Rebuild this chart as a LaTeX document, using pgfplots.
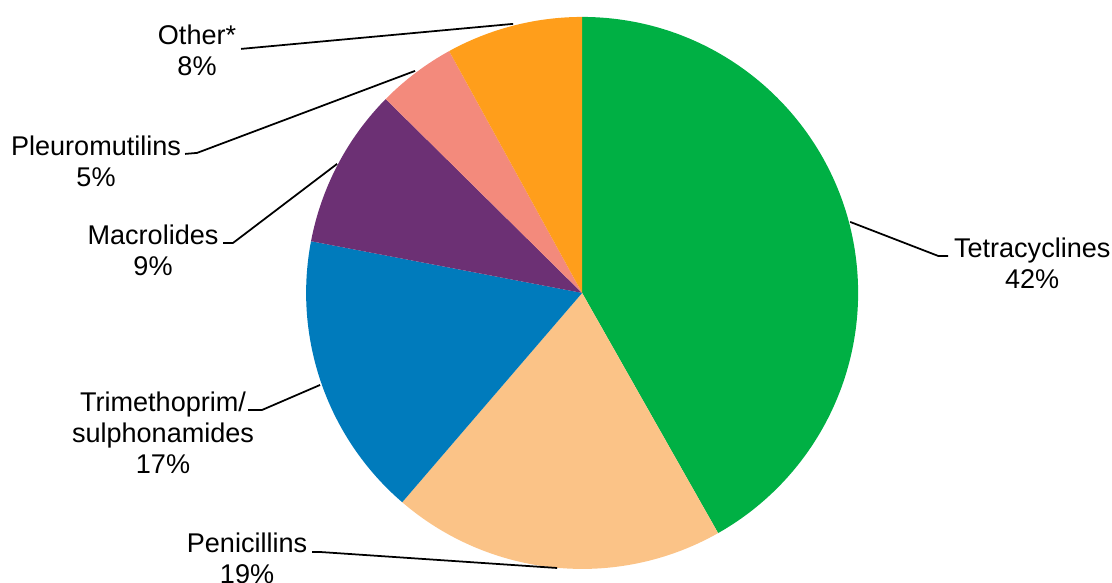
\documentclass[border=0pt]{standalone}
\usepackage{pgfplots}
\usepackage{pgfplotstable}
\pgfplotsset{compat=1.18}
\usepackage{fontspec}
\setmainfont{Liberation Sans}
\definecolor{cTet}{RGB}{0,176,68}
\definecolor{cPen}{RGB}{251,195,135}
\definecolor{cTri}{RGB}{0,123,188}
\definecolor{cMac}{RGB}{108,48,116}
\definecolor{cPle}{RGB}{243,138,124}
\definecolor{cOth}{RGB}{255,158,27}
\pgfplotstableread{
name value
Tetracyclines 41.8
Penicillins 19.5
Trimethoprim 16.7
Macrolides 9.4
Pleuromutilins 4.6
Other 8.0
}\piedata
\pgfplotstablegetelem{0}{value}\of\piedata \let\vA\pgfplotsretval
\pgfplotstablegetelem{1}{value}\of\piedata \let\vB\pgfplotsretval
\pgfplotstablegetelem{2}{value}\of\piedata \let\vC\pgfplotsretval
\pgfplotstablegetelem{3}{value}\of\piedata \let\vD\pgfplotsretval
\pgfplotstablegetelem{4}{value}\of\piedata \let\vE\pgfplotsretval
\pgfplotstablegetelem{5}{value}\of\piedata \let\vF\pgfplotsretval
\pgfmathsetmacro\aA{90}
\pgfmathsetmacro\aB{\aA-3.6*\vA}
\pgfmathsetmacro\aC{\aB-3.6*\vB}
\pgfmathsetmacro\aD{\aC-3.6*\vC}
\pgfmathsetmacro\aE{\aD-3.6*\vD}
\pgfmathsetmacro\aF{\aE-3.6*\vE}
\pgfmathsetmacro\aG{\aF-3.6*\vF}
\begin{document}
\begin{tikzpicture}
\begin{axis}[
  x=0.02cm, y=0.02cm,
  xmin=0, xmax=1112, ymin=0, ymax=583,
  hide axis, clip=false,
  at={(0,0)}, anchor=south west,
]
\addplot[draw=none] coordinates {(0,0) (1112,583)};
\def\R{5.52cm}
\fill[cTet] (axis cs:582,290) -- ++(\aA:\R) arc[start angle=\aA, end angle=\aB, radius=\R] -- cycle;
\fill[cPen] (axis cs:582,290) -- ++(\aB:\R) arc[start angle=\aB, end angle=\aC, radius=\R] -- cycle;
\fill[cTri] (axis cs:582,290) -- ++(\aC:\R) arc[start angle=\aC, end angle=\aD, radius=\R] -- cycle;
\fill[cMac] (axis cs:582,290) -- ++(\aD:\R) arc[start angle=\aD, end angle=\aE, radius=\R] -- cycle;
\fill[cPle] (axis cs:582,290) -- ++(\aE:\R) arc[start angle=\aE, end angle=\aF, radius=\R] -- cycle;
\fill[cOth] (axis cs:582,290) -- ++(\aF:\R) arc[start angle=\aF, end angle=\aG, radius=\R] -- cycle;
\begin{scope}[line width=1pt]
\draw (axis cs:850,361) -- (axis cs:938,327) -- (axis cs:948,327);
\draw (axis cs:557,15) -- (axis cs:320,31) -- (axis cs:312,31);
\draw (axis cs:320,198) -- (axis cs:262,173) -- (axis cs:248,173);
\draw (axis cs:337,419) -- (axis cs:233,340) -- (axis cs:223,340);
\draw (axis cs:415,512) -- (axis cs:197,430) -- (axis cs:185,429);
\draw (axis cs:513,559) -- (axis cs:252,535) -- (axis cs:241,534);
\end{scope}
\begin{scope}[every node/.style={overlay, align=center, inner sep=0pt, font=\fontsize{15.4}{17.6}\selectfont}]
\node at (axis cs:1032,320) {Tetracyclines\\42\%};
\node at (axis cs:247,25) {Penicillins\\19\%};
\node at (axis cs:163,150) {Trimethoprim/\\sulphonamides\\17\%};
\node at (axis cs:153,333) {Macrolides\\9\%};
\node at (axis cs:96,422) {Pleuromutilins\\5\%};
\node at (axis cs:197,533) {Other*\\8\%};
\end{scope}
\end{axis}
\pgfresetboundingbox
\path[use as bounding box] (0,0) rectangle (22.24cm,11.66cm);
\end{tikzpicture}
\end{document}
